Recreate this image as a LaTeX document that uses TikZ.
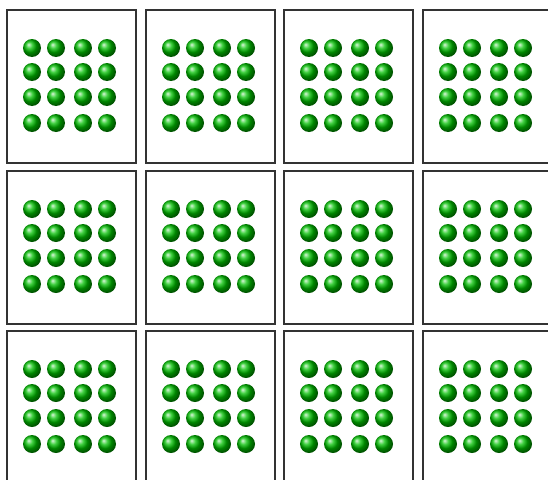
\documentclass[tikz,border=0pt]{standalone}
\usepackage{tikz}
\usetikzlibrary{positioning}

\begin{document}
\begin{tikzpicture}[
    x=1pt, y=-1pt,
    every node/.style={inner sep=0pt, outer sep=0pt},
    panel/.style={draw=black!80, line width=1.3pt, fill=white,
                  anchor=north west, minimum width=129pt, minimum height=153pt},
    dot/.style  ={circle, minimum size=18pt, ball color=green!75!black},
  ]

  %% --- page frame ---------------------------------------------------------
  \fill[white] (0,0) rectangle (548,479);
  \useasboundingbox (0,0) rectangle (548,479);
  \clip (0,0) rectangle (548,479);

  %% --- column x-positions and row y-positions ----------------------------
  \def\colxs{7,146,284,423}   % left edges
  \def\rowys{10,171,331}      % top edges

  %% --- panels, each with a 4x4 block of dots -----------------------------
  \foreach \y [count=\r] in \rowys {
    \foreach \x [count=\c] in \colxs {
      \node[panel] (panel-\r-\c) at (\x,\y) {};
      % dot grid inside the panel
      \foreach \dx [count=\i] in {25,49,76,100} {
        \foreach \dy [count=\j] in {38,62,87,113} {
          \node[dot] (dot-\r-\c-\j-\i) at (\x+\dx,\y+\dy) {};
        }
      }
    }
  }

\end{tikzpicture}
\end{document}
